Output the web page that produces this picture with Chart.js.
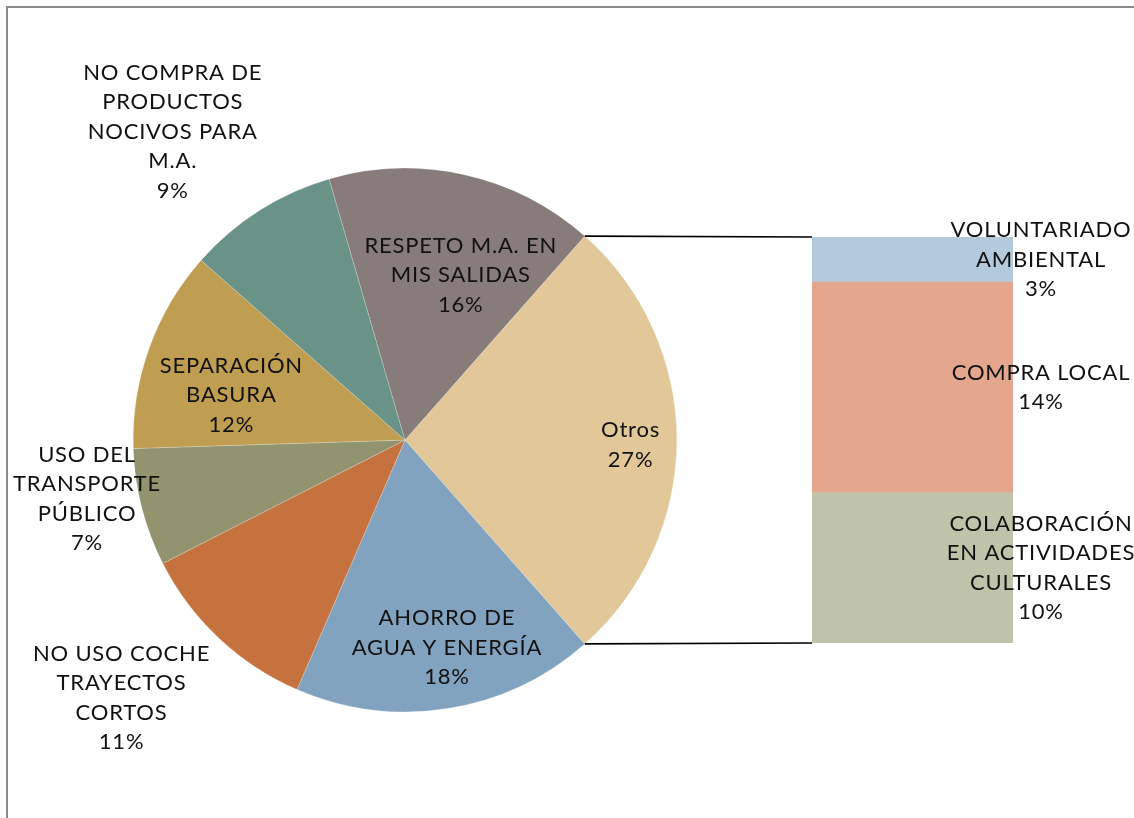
<!DOCTYPE html>
<html>
<head>
<meta charset="utf-8">
<script src="https://cdn.jsdelivr.net/npm/chart.js@4"></script>
<style>
  html, body { margin:0; padding:0; background:#fff; overflow:hidden; }
  #wrap { position:relative; width:1134px; height:818px; }
  #frame { position:absolute; left:6px; top:6px; width:1200px; height:900px; border-top:2px solid #8a8a8a; border-left:2px solid #8a8a8a; }
  canvas { position:absolute; left:0; top:0; }
</style>
</head>
<body>
<div id="wrap">
  <div id="frame"></div>
  <canvas id="pie" width="1134" height="818"></canvas>
  <canvas id="bar" width="1134" height="818"></canvas>
</div>
<script>
// ─── DATA ─────────────────────────────────────────────────────────────────────
const pieLabels = [
  ['Otros'],
  ['AHORRO DE', 'AGUA Y ENERGÍA'],
  ['NO USO COCHE', 'TRAYECTOS', 'CORTOS'],
  ['USO DEL', 'TRANSPORTE', 'PÚBLICO'],
  ['SEPARACIÓN', 'BASURA'],
  ['NO COMPRA DE', 'PRODUCTOS', 'NOCIVOS PARA', 'M.A.'],
  ['RESPETO M.A. EN', 'MIS SALIDAS']
];
const pieValues = [27, 18, 11, 7, 12, 9, 16];

// "Otros" broken down, bottom to top
const barLabels = [
  ['COLABORACIÓN', 'EN ACTIVIDADES', 'CULTURALES'],
  ['COMPRA LOCAL'],
  ['VOLUNTARIADO', 'AMBIENTAL']
];
const barValues = [10, 14, 3];

// ─── STYLE ────────────────────────────────────────────────────────────────────
const pieColors = ['#E2C898', '#82A3BF', '#C6723E', '#91946E', '#BF9E52', '#6A9388', '#877C79'];
const barColors = ['#BFC3A9', '#E4A78E', '#B3C9DC'];
// label placement: [radius factor, angle shift in degrees] per slice
const pieLabelPolar = [[0.83, 1.3], [0.78, -2.4], [1.41, 4.5], [1.19, 3.9], [0.66, -5.3], [1.42, -4.6], [0.64, 6.1]];
const FONT = '22px Lato, "Open Sans", sans-serif';
const LINE_H = 29.5;
const TXT = '#111';

function drawLines(ctx, lines, x, y) {
  ctx.save();
  ctx.font = FONT;
  ctx.letterSpacing = '0.8px';
  ctx.fillStyle = TXT;
  ctx.textAlign = 'center';
  ctx.textBaseline = 'middle';
  const y0 = y - (lines.length - 1) * LINE_H / 2;
  lines.forEach((l, i) => ctx.fillText(l, x, y0 + i * LINE_H));
  ctx.restore();
}

const pieTotal = pieValues.reduce((a, b) => a + b, 0);
const otrosSpan = pieValues[0] / pieTotal * 360;

// ─── PIE ──────────────────────────────────────────────────────────────────────
const pieLabelPlugin = {
  id: 'pieLabels',
  afterDatasetsDraw(chart) {
    const ctx = chart.ctx;
    chart.getDatasetMeta(0).data.forEach((arc, i) => {
      const [f, shift] = pieLabelPolar[i];
      const a = (arc.startAngle + arc.endAngle) / 2 + shift * Math.PI / 180;
      const r = arc.outerRadius * f;
      const pct = Math.round(pieValues[i] / pieTotal * 100) + '%';
      drawLines(ctx, [...pieLabels[i], pct], arc.x + r * Math.cos(a), arc.y + r * Math.sin(a));
    });
  }
};

const pieChart = new Chart(document.getElementById('pie').getContext('2d'), {
  type: 'pie',
  data: { labels: pieLabels, datasets: [{ data: pieValues, backgroundColor: pieColors, borderWidth: 0.4, borderColor: 'rgba(255,255,255,0.5)' }] },
  options: {
    responsive: false, animation: false,
    rotation: 90 - otrosSpan / 2,
    layout: { padding: { left: 133, right: 457, top: 168, bottom: 106 } },
    plugins: { legend: { display: false }, tooltip: { enabled: false } }
  },
  plugins: [pieLabelPlugin]
});

// ─── BAR + CONNECTORS ─────────────────────────────────────────────────────────
const barLabelPlugin = {
  id: 'barLabels',
  afterDatasetsDraw(chart) {
    const ctx = chart.ctx;
    barValues.forEach((v, i) => {
      const el = chart.getDatasetMeta(i).data[0];
      drawLines(ctx, [...barLabels[i], v + '%'], el.x + el.width / 2 + 28, (el.y + el.base) / 2);
    });
    // connector lines from the "Otros" slice edges to the bar
    const arc = pieChart.getDatasetMeta(0).data[0];
    const top = chart.getDatasetMeta(barValues.length - 1).data[0];
    const bot = chart.getDatasetMeta(0).data[0];
    const left = top.x - top.width / 2;
    ctx.save();
    ctx.strokeStyle = '#000';
    ctx.lineWidth = 1.6;
    ctx.beginPath();
    ctx.moveTo(arc.x + arc.outerRadius * Math.cos(arc.startAngle), arc.y + arc.outerRadius * Math.sin(arc.startAngle));
    ctx.lineTo(left, top.y);
    ctx.moveTo(arc.x + arc.outerRadius * Math.cos(arc.endAngle), arc.y + arc.outerRadius * Math.sin(arc.endAngle));
    ctx.lineTo(left, bot.base);
    ctx.stroke();
    ctx.restore();
  }
};

new Chart(document.getElementById('bar').getContext('2d'), {
  type: 'bar',
  data: {
    labels: ['Otros'],
    datasets: barValues.map((v, i) => ({ label: barLabels[i].join(' '), data: [v], backgroundColor: barColors[i], borderWidth: 0, categoryPercentage: 1, barPercentage: 1 }))
  },
  options: {
    responsive: false, animation: false,
    layout: { padding: { left: 812, right: 121, top: 237, bottom: 175 } },
    scales: {
      x: { stacked: true, display: false },
      y: { stacked: true, display: false, min: 0, max: barValues.reduce((a, b) => a + b, 0) }
    },
    plugins: { legend: { display: false }, tooltip: { enabled: false } }
  },
  plugins: [barLabelPlugin]
});
</script>
</body>
</html>
